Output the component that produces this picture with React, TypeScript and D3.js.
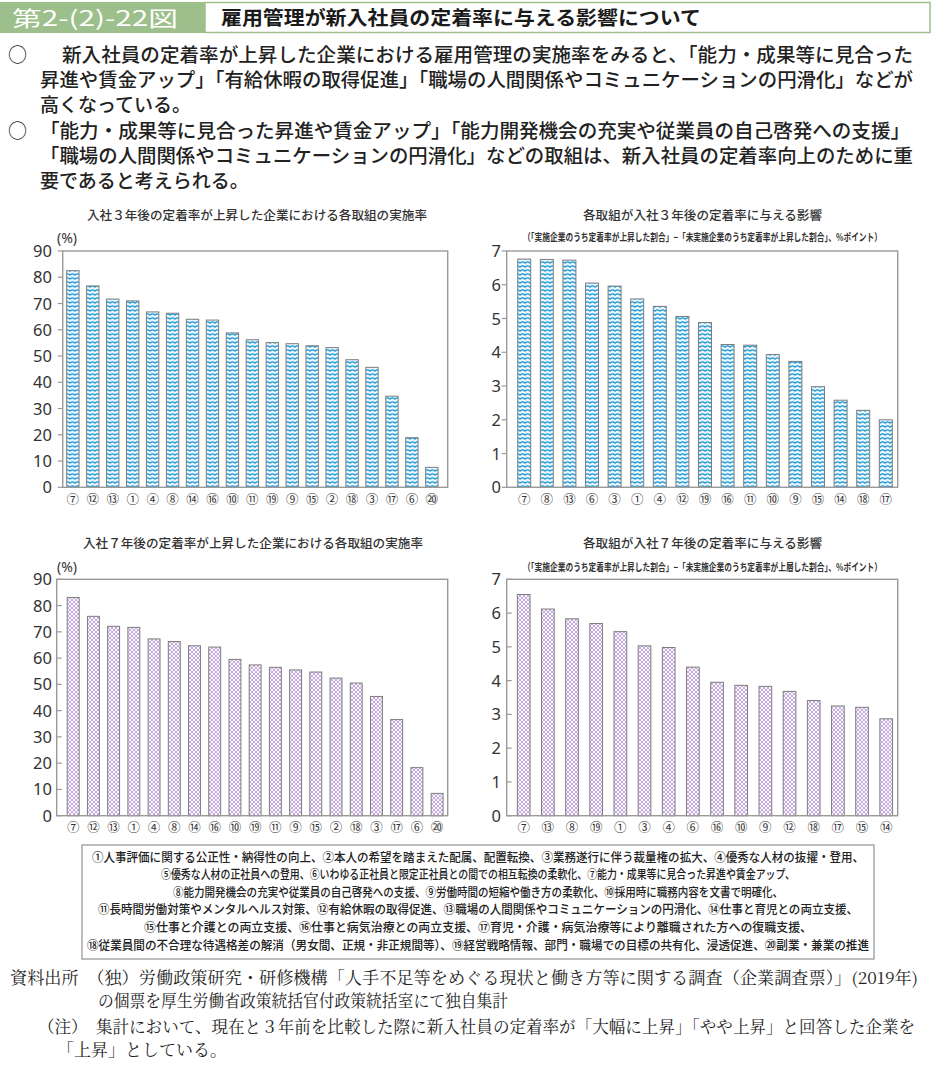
import React from "react";
import * as d3 from "d3";

// ---- Data ----
const cats3Rate = ["⑦","⑫","⑬","①","④","⑧","⑭","⑯","⑩","⑪","⑲","⑨","⑮","②","⑱","③","⑰","⑥","⑳"];
const vals3Rate = [82.5,76.7,71.7,71.0,66.8,66.3,64.0,63.7,58.8,56.2,55.1,54.7,53.9,53.2,48.6,45.7,34.7,18.9,7.6];

const cats3Eff = ["⑦","⑧","⑬","⑥","③","①","④","⑫","⑲","⑯","⑪","⑩","⑨","⑮","⑭","⑱","⑰"];
const vals3Eff = [6.76,6.75,6.73,6.05,5.96,5.58,5.36,5.06,4.88,4.23,4.21,3.93,3.73,2.98,2.58,2.28,2.0];

const cats7Rate = ["⑦","⑫","⑬","①","④","⑧","⑭","⑯","⑩","⑲","⑪","⑨","⑮","②","⑱","③","⑰","⑥","⑳"];
const vals7Rate = [83.1,75.9,72.1,71.7,67.3,66.3,64.7,64.2,59.5,57.4,56.5,55.5,54.7,52.4,50.5,45.4,36.6,18.3,8.5];

const cats7Eff = ["⑦","⑬","⑧","⑲","①","③","④","⑥","⑯","⑩","⑨","⑫","⑱","⑰","⑮","⑭"];
const vals7Eff = [6.55,6.12,5.83,5.69,5.45,5.03,4.98,4.40,3.95,3.86,3.83,3.68,3.41,3.25,3.21,2.87];

const rateTicks = [0,10,20,30,40,50,60,70,80,90];
const effTicks = [0,1,2,3,4,5,6,7];

const figNo = "第2-(2)-22図";
const figTitle = "雇用管理が新入社員の定着率に与える影響について";
const bulletLines = [
  { mark: true, text: "新入社員の定着率が上昇した企業における雇用管理の実施率をみると、「能力・成果等に見合った", x: 62, w: 851 },
  { mark: false, text: "昇進や賃金アップ」「有給休暇の取得促進」「職場の人間関係やコミュニケーションの円滑化」などが", x: 40, w: 873 },
  { mark: false, text: "高くなっている。", x: 40, w: 0 },
  { mark: true, text: "「能力・成果等に見合った昇進や賃金アップ」「能力開発機会の充実や従業員の自己啓発への支援」", x: 40, w: 870 },
  { mark: false, text: "「職場の人間関係やコミュニケーションの円滑化」などの取組は、新入社員の定着率向上のために重", x: 40, w: 873 },
  { mark: false, text: "要であると考えられる。", x: 40, w: 0 },
];
const bulletY = [62, 87, 112, 138, 163, 188];

const title3Rate = "入社３年後の定着率が上昇した企業における各取組の実施率";
const title3Eff = "各取組が入社３年後の定着率に与える影響";
const sub3Eff = "（「実施企業のうち定着率が上昇した割合」−「未実施企業のうち定着率が上昇した割合」、%ポイント）";
const title7Rate = "入社７年後の定着率が上昇した企業における各取組の実施率";
const title7Eff = "各取組が入社７年後の定着率に与える影響";
const sub7Eff = "（「実施企業のうち定着率が上昇した割合」−「未実施企業のうち定着率が上層した割合」、%ポイント）";

const legendLines = [
  "①人事評価に関する公正性・納得性の向上、②本人の希望を踏まえた配属、配置転換、③業務遂行に伴う裁量権の拡大、④優秀な人材の抜擢・登用、",
  "⑤優秀な人材の正社員への登用、⑥いわゆる正社員と限定正社員との間での相互転換の柔軟化、⑦能力・成果等に見合った昇進や賃金アップ、",
  "⑧能力開発機会の充実や従業員の自己啓発への支援、⑨労働時間の短縮や働き方の柔軟化、⑩採用時に職務内容を文書で明確化、",
  "⑪長時間労働対策やメンタルヘルス対策、⑫有給休暇の取得促進、⑬職場の人間関係やコミュニケーションの円滑化、⑭仕事と育児との両立支援、",
  "⑮仕事と介護との両立支援、⑯仕事と病気治療との両立支援、⑰育児・介護・病気治療等により離職された方への復職支援、",
  "⑱従業員間の不合理な待遇格差の解消（男女間、正規・非正規間等）、⑲経営戦略情報、部門・職場での目標の共有化、浸透促進、⑳副業・兼業の推進",
];
const legendWidths = [772, 634, 610, 760, 668, 782];

const footLines = [
  { text: "資料出所　（独）労働政策研究・研修機構「人手不足等をめぐる現状と働き方等に関する調査（企業調査票）」(2019年)", x: 10, w: 908, y: 984 },
  { text: "の個票を厚生労働省政策統括官付政策統括室にて独自集計", x: 98, w: 410, y: 1007 },
  { text: "（注）　集計において、現在と３年前を比較した際に新入社員の定着率が「大幅に上昇」「やや上昇」と回答した企業を", x: 38, w: 877, y: 1033 },
  { text: "「上昇」としている。", x: 57, w: 170, y: 1056 },
];

const JP = "'Noto Sans CJK JP', 'Noto Sans', sans-serif";
const NUM = "'Noto Sans', 'DejaVu Sans', sans-serif";
const SERIF = "'Noto Serif CJK JP', 'Liberation Serif', serif";

// estimate natural text width (full-width glyphs = 1em, ASCII ≈ 0.55em)
function naturalWidth(s: string, fs: number) {
  let w = 0;
  for (const ch of s) w += ch.charCodeAt(0) < 0x2000 ? 0.55 : 1;
  return w * fs;
}

type FitProps = {
  text: string;
  x: number;
  y: number;
  w: number;
  fs: number;
  anchor?: "start" | "middle";
  family: string;
  weight?: number;
  fill?: string;
};

// Text squeezed horizontally to a target width via a scale transform
function FitText(p: FitProps) {
  const nat = naturalWidth(p.text, p.fs);
  const sx = Math.min(1, p.w / nat);
  const len = p.w / sx;
  return (
    <text
      transform={`translate(${p.x},${p.y}) scale(${sx},1)`}
      x={0}
      y={0}
      textAnchor={p.anchor || "start"}
      fontFamily={p.family}
      fontSize={p.fs}
      fontWeight={p.weight || 400}
      fill={p.fill || "#222"}
      textLength={len}
      lengthAdjust="spacingAndGlyphs"
    >
      {p.text}
    </text>
  );
}

type ChartProps = {
  cats: string[];
  vals: number[];
  ticks: number[];
  yMax: number;
  frame: { x0: number; x1: number; y0: number; y1: number };
  band: { r0: number; r1: number; pi: number; po: number };
  fill: string;
  tickInside: boolean;
  labelRight: number;
  xLabelY: number;
};

function BarChart(p: ChartProps) {
  const y = d3.scaleLinear().domain([0, p.yMax]).range([p.frame.y1, p.frame.y0]);
  const x = d3
    .scaleBand<string>()
    .domain(p.cats)
    .range([p.band.r0, p.band.r1])
    .paddingInner(p.band.pi)
    .paddingOuter(p.band.po);
  const bw = x.bandwidth();
  return (
    <g>
      {p.cats.map((c, i) => (
        <rect
          key={c}
          x={x(c)}
          y={y(p.vals[i])}
          width={bw}
          height={y(0) - y(p.vals[i])}
          fill={p.fill}
          stroke="#7d7d7d"
          strokeWidth={1}
        />
      ))}
      <rect
        x={p.frame.x0}
        y={p.frame.y0}
        width={p.frame.x1 - p.frame.x0}
        height={p.frame.y1 - p.frame.y0}
        fill="none"
        stroke="#9a9a9a"
        strokeWidth={1.4}
      />
      {p.ticks.map((t) => (
        <g key={t}>
          <line
            x1={p.tickInside ? p.frame.x0 : p.frame.x0 - 5}
            x2={p.tickInside ? p.frame.x0 + 5 : p.frame.x0}
            y1={y(t)}
            y2={y(t)}
            stroke="#9a9a9a"
            strokeWidth={1.2}
          />
          <text
            x={p.labelRight}
            y={y(t) + 6}
            textAnchor="end"
            fontFamily={NUM}
            fontSize={16.5}
            fill="#333"
          >
            {t}
          </text>
        </g>
      ))}
      {p.cats.map((c) => (
        <text
          key={"l" + c}
          x={(x(c) as number) + bw / 2}
          y={p.xLabelY}
          textAnchor="middle"
          fontFamily={JP}
          fontSize={12.5}
          fill="#333"
        >
          {c}
        </text>
      ))}
    </g>
  );
}

export default function App() {
  return (
    <svg
      width={933}
      height={1073}
      style={{ position: "absolute", left: 0, top: 0, background: "#fff" }}
    >
      <defs>
        <pattern id="wave" width="5" height="4" patternUnits="userSpaceOnUse">
          <rect width="5" height="4" fill="#eaf6fc" />
          <path d="M0,3.3 Q2.5,0.4 5,3.3" stroke="#1a96d4" strokeWidth={1.45} fill="none" />
        </pattern>
        <pattern id="lattice" width="4" height="4" patternUnits="userSpaceOnUse">
          <rect width="4" height="4" fill="#fbf8fd" />
          <path d="M0,0 L4,4 M4,0 L0,4" stroke="#c2a6dd" strokeWidth={0.95} fill="none" />
        </pattern>
      </defs>

      {/* Header */}
      <rect x={0} y={2} width={205} height={31} fill="#9dbf8b" />
      <rect x={205} y={2.5} width={725} height={30} fill="#fff" stroke="#9dbf8b" strokeWidth={1.5} />
      <text x={12} y={26} fontFamily={JP} fontSize={21} fill="#fff" textLength={166} lengthAdjust="spacingAndGlyphs">
        {figNo}
      </text>
      <text x={221} y={25} fontFamily={JP} fontSize={19} fontWeight={700} fill="#1a1a1a" textLength={480} lengthAdjust="spacingAndGlyphs">
        {figTitle}
      </text>

      {/* Bullets */}
      {bulletLines.map((b, i) => (
        <g key={i}>
          {b.mark && (
            <text x={8} y={bulletY[i]} fontFamily={JP} fontSize={19} fill="#222">
              ○
            </text>
          )}
          <text
            x={b.x}
            y={bulletY[i]}
            fontFamily={JP}
            fontSize={19}
            fontWeight={500}
            fill="#222"
            {...(b.w ? { textLength: b.w, lengthAdjust: "spacingAndGlyphs" } : {})}
          >
            {b.text}
          </text>
        </g>
      ))}

      {/* Chart titles */}
      <FitText text={title3Rate} x={257} y={219.5} w={340} fs={12.5} anchor="middle" family={JP} weight={500} fill="#333" />
      <text x={57} y={243} fontFamily={NUM} fontSize={14} fill="#333">(%)</text>
      <FitText text={title3Eff} x={702.5} y={219.5} w={239} fs={12.5} anchor="middle" family={JP} weight={500} fill="#333" />
      <FitText text={sub3Eff} x={702.5} y={241} w={359} fs={10.5} anchor="middle" family={JP} weight={700} fill="#333" />

      <FitText text={title7Rate} x={253} y={547.5} w={340} fs={12.5} anchor="middle" family={JP} weight={500} fill="#333" />
      <text x={57} y={572} fontFamily={NUM} fontSize={14} fill="#333">(%)</text>
      <FitText text={title7Eff} x={702.5} y={547.5} w={239} fs={12.5} anchor="middle" family={JP} weight={500} fill="#333" />
      <FitText text={sub7Eff} x={702.5} y={571} w={359} fs={10.5} anchor="middle" family={JP} weight={700} fill="#333" />

      <BarChart
        cats={cats3Rate}
        vals={vals3Rate}
        ticks={rateTicks}
        yMax={90}
        frame={{ x0: 62.7, x1: 447.7, y0: 251, y1: 487.3 }}
        band={{ r0: 62.7, r1: 442, pi: 0.38, po: 0.2 }}
        fill="url(#wave)"
        tickInside={false}
        labelRight={52}
        xLabelY={504}
      />
      <BarChart
        cats={cats3Eff}
        vals={vals3Eff}
        ticks={effTicks}
        yMax={7}
        frame={{ x0: 506.7, x1: 897.7, y0: 251, y1: 487.3 }}
        band={{ r0: 506.7, r1: 903.3, pi: 0.425, po: 0.487 }}
        fill="url(#wave)"
        tickInside={false}
        labelRight={501}
        xLabelY={504}
      />
      <BarChart
        cats={cats7Rate}
        vals={vals7Rate}
        ticks={rateTicks}
        yMax={90}
        frame={{ x0: 56.7, x1: 447.7, y0: 579.3, y1: 815.7 }}
        band={{ r0: 56.7, r1: 453.6, pi: 0.41, po: 0.52 }}
        fill="url(#lattice)"
        tickInside={true}
        labelRight={52}
        xLabelY={832}
      />
      <BarChart
        cats={cats7Eff}
        vals={vals7Eff}
        ticks={effTicks}
        yMax={7}
        frame={{ x0: 506.7, x1: 897.7, y0: 579.3, y1: 815.7 }}
        band={{ r0: 506.7, r1: 903.2, pi: 0.475, po: 0.44 }}
        fill="url(#lattice)"
        tickInside={true}
        labelRight={501}
        xLabelY={832}
      />

      {/* Legend box */}
      <rect x={82} y={845} width={792} height={114} fill="#fff" stroke="#9a9a9a" strokeWidth={1.3} />
      {legendLines.map((l, i) => (
        <FitText
          key={i}
          text={l}
          x={478}
          y={861.5 + i * 17.6}
          w={legendWidths[i]}
          fs={12.5}
          anchor="middle"
          family={JP}
          weight={500}
          fill="#222"
        />
      ))}

      {/* Footer */}
      {footLines.map((f, i) => (
        <text
          key={i}
          x={f.x}
          y={f.y}
          fontFamily={SERIF}
          fontSize={16.5}
          fill="#222"
          textLength={f.w}
          lengthAdjust="spacingAndGlyphs"
        >
          {f.text}
        </text>
      ))}
    </svg>
  );
}
